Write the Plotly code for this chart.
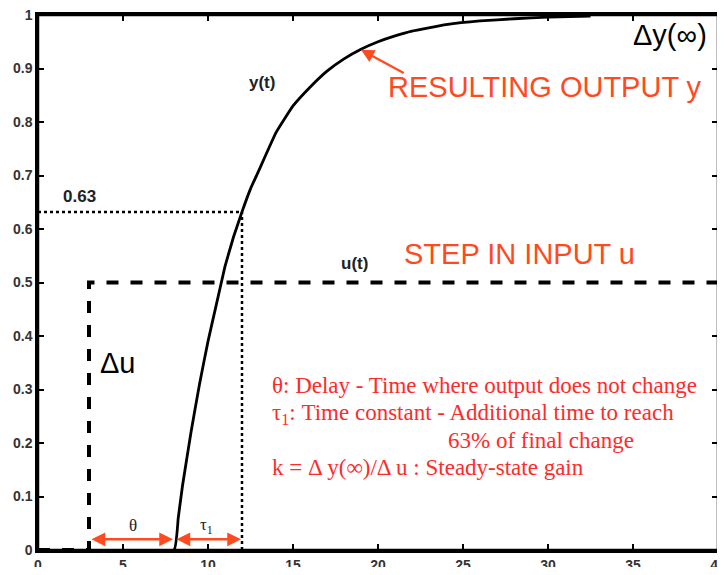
import plotly.graph_objects as go

# Output response y(t)
t_out = [0, 8, 8.25, 8.5, 9, 9.5, 10, 10.5, 11, 11.5, 12, 12.5, 13, 14, 15, 16, 17, 18, 19, 20, 21, 22, 24, 26, 28, 30, 32.5]
y_out = [0, 0, 0.06, 0.12, 0.22, 0.31, 0.39, 0.46, 0.53, 0.585, 0.632, 0.675, 0.71, 0.78, 0.83, 0.865, 0.895, 0.918, 0.936, 0.95, 0.961, 0.97, 0.982, 0.989, 0.993, 0.996, 0.998]

# Step input u(t)
t_in = [0, 3, 3, 40]
u_in = [0, 0, 0.5, 0.5]

# 63% markers
t63 = 12
y63 = 0.632
theta_start, theta_end = 3, 8

x_ticks = [0, 5, 10, 15, 20, 25, 30, 35, 40]
y_ticks = [0, 0.1, 0.2, 0.3, 0.4, 0.5, 0.6, 0.7, 0.8, 0.9, 1]
y_tick_text = ["0", "0.1", "0.2", "0.3", "0.4", "0.5", "0.6", "0.7", "0.8", "0.9", "1"]

ORANGE = "#ff4a1f"
RED = "#ff2a2a"
SANS = "Liberation Sans, Arial"
SERIF = "Liberation Serif, Times New Roman"

fig = go.Figure()
fig.add_trace(go.Scatter(x=t_in, y=u_in, mode="lines",
                         line=dict(color="black", width=4, dash="dash")))
fig.add_trace(go.Scatter(x=t_out, y=y_out, mode="lines",
                         line=dict(color="black", width=2.8, shape="spline", smoothing=0.3)))
fig.add_trace(go.Scatter(x=[0, t63], y=[y63, y63], mode="lines",
                         line=dict(color="black", width=2.5, dash="dot")))
fig.add_trace(go.Scatter(x=[t63, t63], y=[0, y63], mode="lines",
                         line=dict(color="black", width=2.5, dash="dot")))

ann = []
def txt(x, y, s, size, color="black", bold=False, family=SANS, xanchor="center"):
    ann.append(dict(x=x, y=y, text=s, showarrow=False,
                    font=dict(size=size, color=color, family=family, weight="bold" if bold else "normal"),
                    xanchor=xanchor, yanchor="middle"))

txt(13.2, 0.873, "y(t)", 17, "#222", bold=True)
txt(29.8, 0.865, "RESULTING OUTPUT y", 29, ORANGE)
txt(37.2, 0.963, "Δy(∞)", 29, "black")
txt(2.47, 0.66, "0.63", 17, "#222", bold=True)
txt(18.6, 0.536, "u(t)", 17, "#222", bold=True)
txt(28.35, 0.553, "STEP IN INPUT u", 29, ORANGE)
txt(4.7, 0.35, "Δu", 29, "black")

txt(13.65, 0.307, "θ: Delay - Time where output does not change", 23, RED, family=SERIF, xanchor="left")
txt(13.65, 0.254, "τ<sub>1</sub>: Time constant - Additional time to reach", 23, RED, family=SERIF, xanchor="left")
txt(29.6, 0.204, "63% of final change", 23, RED, family=SERIF)
txt(13.65, 0.155, "k = Δ y(∞)/Δ u : Steady-state gain", 23, RED, family=SERIF, xanchor="left")

txt(5.6, 0.045, "θ", 17, "#222", family=SERIF)
txt(9.9, 0.045, "τ<sub>1</sub>", 17, "#222", family=SERIF)

# pointer arrow
ann.append(dict(x=19.0, y=0.935, ax=21.6, ay=0.89, xref="x", yref="y", axref="x", ayref="y",
                showarrow=True, arrowhead=2, arrowsize=1.2, arrowwidth=2.2, arrowcolor=ORANGE, text=""))
# double arrows
for a, b in [(theta_start, theta_end), (theta_end, t63)]:
    ann.append(dict(x=b, y=0.02, ax=a, ay=0.02, xref="x", yref="y", axref="x", ayref="y",
                    showarrow=True, arrowhead=2, startarrowhead=2, arrowside="end+start",
                    arrowsize=1.1, startarrowsize=1.1, arrowwidth=2.5, arrowcolor=ORANGE, text="",
                    standoff=1, startstandoff=1))

tickfont = dict(family=SANS, size=14, color="#333", weight="bold")
fig.update_layout(
    width=717, height=559,
    margin=dict(l=30, r=7, t=7, b=17, autoexpand=False),
    paper_bgcolor="white", plot_bgcolor="white",
    showlegend=False,
    annotations=ann,
    shapes=[dict(type="rect", xref="paper", yref="paper", x0=0, y0=0, x1=1, y1=1,
                 line=dict(color="black", width=2.5), layer="above")],
    xaxis=dict(range=[0, 40], tickvals=x_ticks, ticks="inside", ticklen=6, tickwidth=2, tickcolor="black",
               showline=True, linecolor="black", linewidth=2.5, mirror="ticks", showgrid=False,
               zeroline=False, tickfont=tickfont, ticklabeloverflow="allow", ticklabelstandoff=0),
    yaxis=dict(range=[0, 1], tickvals=y_ticks, ticktext=y_tick_text, ticks="inside", ticklen=6, tickwidth=2,
               tickcolor="black", showline=True, linecolor="black", linewidth=2.5, mirror="ticks",
               showgrid=False, zeroline=False, tickfont=tickfont, ticklabeloverflow="allow"),
)
fig.write_html("out.html")
